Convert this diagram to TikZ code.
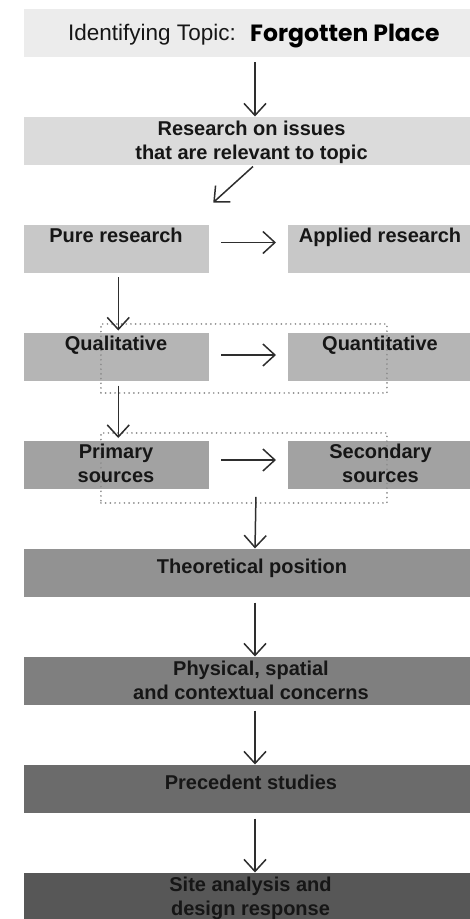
\documentclass[tikz,border=0pt]{standalone}
\usepackage{fontspec}
\setmainfont{Liberation Sans}
\newfontfamily\popfont{Poppins}
\usetikzlibrary{arrows.meta}
\definecolor{c0}{HTML}{ECECEC}
\definecolor{c1}{HTML}{DBDBDB}
\definecolor{c2}{HTML}{C8C8C8}
\definecolor{c3}{HTML}{B5B5B5}
\definecolor{c4}{HTML}{A2A2A2}
\definecolor{c5}{HTML}{929292}
\definecolor{c6}{HTML}{7F7F7F}
\definecolor{c7}{HTML}{6B6B6B}
\definecolor{c8}{HTML}{575757}
\definecolor{txt}{HTML}{161616}
\definecolor{arrc}{HTML}{2E2E2E}
\definecolor{dotc}{HTML}{8C8C8C}
\tikzset{
  box/.style={rectangle, inner sep=0pt, outer sep=0pt, minimum height=48pt, anchor=north west, draw=none},
  wide/.style={box, minimum width=463pt},
  half/.style={box, minimum width=185.5pt},
  halfr/.style={box, minimum width=192pt},
  lbl/.style={inner sep=0pt, text=txt, align=center, font=\fontsize{20}{24}\selectfont\bfseries},
  grp/.style={rectangle, inner sep=0pt, draw=dotc, line width=1.9pt, line cap=round, dash pattern=on 0pt off 4.7pt, anchor=north west},
  arr/.style={draw=arrc, line width=1.5pt, -{Straight Barb[length=12pt,width=22pt,line width=1.5pt]}}
}
\begin{document}
\begin{tikzpicture}[x=1pt, y=-1pt]
\useasboundingbox (0,0) rectangle (470,919);
\clip (0,0) rectangle (470,919);
% boxes
\node[wide, fill=c0] (topic) at (23.5,8.5) {};
\node[wide, fill=c1] (issues) at (23.5,116.5) {};
\node[half, fill=c2] (pure) at (23.5,224.5) {};
\node[halfr, fill=c2] (applied) at (288,224.5) {};
\node[half, fill=c3] (qual) at (23.5,332.5) {};
\node[halfr, fill=c3] (quant) at (288,332.5) {};
\node[half, fill=c4] (prim) at (23.5,440.5) {};
\node[halfr, fill=c4] (sec) at (288,440.5) {};
\node[wide, fill=c5] (theo) at (23.5,548.5) {};
\node[wide, fill=c6] (phys) at (23.5,656.5) {};
\node[wide, fill=c7] (prec) at (23.5,764.5) {};
\node[wide, fill=c8] (site) at (23.5,872.5) {};
% dotted groups
\node[grp, minimum width=286pt, minimum height=69pt] (grp1) at (100,323) {};
\node[grp, minimum width=286pt, minimum height=70pt] (grp2) at (100,432) {};
% texts
\node[anchor=base west, inner sep=0pt, text=txt] (idT) at (68,40) {\fontsize{22.5}{24}\selectfont Identifying Topic:};
\node[anchor=base west, inner sep=0pt, text=black] (fpT) at (250,41.5) {\popfont\bfseries\fontsize{23.5}{24}\selectfont Forgotten Place};
\node[lbl] (issuesT) at (251.5,142.5) {\strut Research on issues\\\strut that are relevant to topic};
\node[lbl] (pureT) at (116,238) {\strut Pure research};
\node[lbl] (appliedT) at (380,238) {\strut Applied research};
\node[lbl] (qualT) at (116,345.2) {\strut Qualitative};
\node[lbl] (quantT) at (380,345.2) {\strut Quantitative};
\node[lbl] (primT) at (116,465.7) {\strut Primary\\\strut sources};
\node[lbl] (secT) at (380.5,465.7) {\strut Secondary\\\strut sources};
\node[lbl] (theoT) at (252,568.7) {\strut Theoretical position};
\node[lbl] (physT) at (251,682.2) {\strut Physical, spatial\\\strut and contextual concerns};
\node[lbl] (precT) at (251,784.2) {\strut Precedent studies};
\node[lbl] (siteT) at (250.5,898.2) {\strut Site analysis and\\\strut design response};
% arrows
\draw[arr] ([shift={(0,5.5)}]topic.south) -- (issues.north);
\draw[arr] ([shift={(-2,2)}]issues.south) -- ([shift={(97,-22)}]pure.north);
\draw[arr] ([shift={(12,-6)}]pure.east) -- ([shift={(-12,-6)}]applied.west);
\draw[arr] ([shift={(2,4.5)}]pure.south) -- ([shift={(2,-2)}]qual.north);
\draw[arr] ([shift={(12,-1.5)}]qual.east) -- ([shift={(-12,-1.5)}]quant.west);
\draw[arr] ([shift={(2,5)}]qual.south) -- ([shift={(2,-2.5)}]prim.north);
\draw[arr] ([shift={(12,-4.5)}]prim.east) -- ([shift={(-12,-4.5)}]sec.west);
\draw[arr] ([shift={(12,-7)}]grp2.south) -- (theo.north);
\draw[arr] ([shift={(0,6)}]theo.south) -- (phys.north);
\draw[arr] ([shift={(0,6)}]phys.south) -- (prec.north);
\draw[arr] ([shift={(0,6)}]prec.south) -- (site.north);
\end{tikzpicture}
\end{document}
